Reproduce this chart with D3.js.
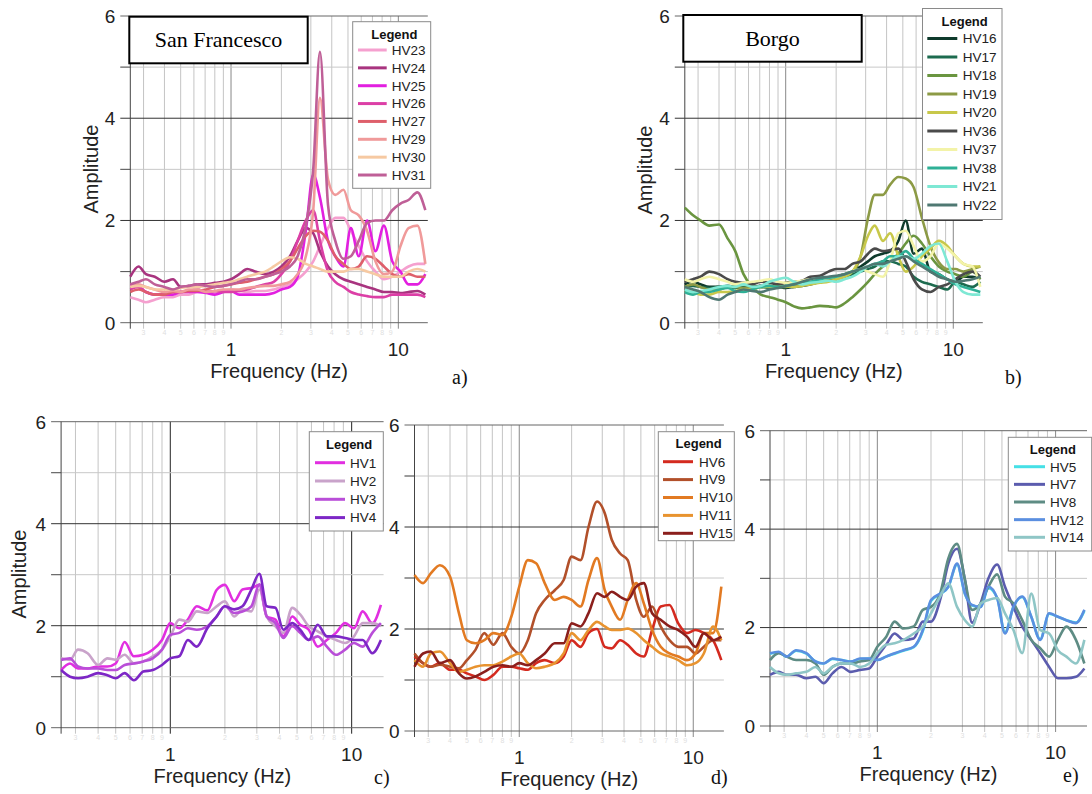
<!DOCTYPE html>
<html><head><meta charset="utf-8">
<script src="https://cdn.jsdelivr.net/npm/d3@7"></script>
<style>body{margin:0;background:#fff} svg{display:block}</style>
</head><body>
<svg id="chart" width="1092" height="794"></svg>
<script>
// ---------- DATA ----------
const freq = [0.25,0.28,0.31,0.35,0.4,0.45,0.5,0.56,0.63,0.71,0.8,0.9,1.0,1.12,1.25,1.4,1.6,1.8,2.0,2.25,2.5,2.8,3.1,3.4,3.8,4.2,4.7,5.2,5.8,6.5,7.3,8.2,9.2,10.3,11.5,13,14.5];
const yTicks = [0,2,4,6];
const xTickLabels = ["1","10"];
const xTickValues = [1,10];

// a) San Francesco
const sfNames = ["HV23","HV24","HV25","HV26","HV27","HV29","HV30","HV31"];
const hv23 = [0.5,0.45,0.4,0.45,0.5,0.5,0.55,0.55,0.6,0.6,0.6,0.62,0.65,0.62,0.6,0.62,0.62,0.65,0.7,0.75,0.85,1.0,1.2,1.5,1.85,2.05,2.05,1.8,1.5,1.2,1.0,0.85,0.9,1.0,1.1,1.15,1.15];
const hv24 = [0.9,1.1,0.95,0.9,0.8,0.85,0.7,0.72,0.75,0.75,0.78,0.8,0.85,0.95,1.05,1.0,0.95,1.0,1.1,1.3,1.6,1.85,1.75,1.4,1.1,0.95,0.85,0.8,0.75,0.7,0.65,0.6,0.6,0.58,0.6,0.62,0.55];
const hv25 = [0.75,0.7,0.6,0.55,0.55,0.55,0.6,0.6,0.6,0.58,0.55,0.6,0.62,0.55,0.55,0.55,0.55,0.58,0.65,0.7,0.9,1.8,2.9,2.45,1.6,1.3,1.1,1.85,1.3,2.0,1.4,1.9,1.2,1.0,0.75,0.75,0.95];
const hv26 = [0.65,0.7,0.6,0.55,0.55,0.6,0.6,0.62,0.65,0.6,0.62,0.6,0.6,0.62,0.65,0.7,0.75,0.8,0.95,1.2,1.6,2.0,2.2,1.6,1.0,0.8,0.7,0.6,0.55,0.52,0.5,0.5,0.55,0.55,0.55,0.55,0.5];
const hv27 = [0.6,0.65,0.6,0.55,0.55,0.6,0.6,0.62,0.62,0.65,0.7,0.72,0.75,0.78,0.8,0.85,0.9,0.95,1.05,1.2,1.45,1.7,1.8,1.78,1.6,1.3,1.15,1.05,1.1,1.3,1.25,1.1,0.95,0.9,0.95,0.9,0.9];
const hv29 = [0.7,0.75,0.7,0.65,0.6,0.62,0.6,0.65,0.65,0.6,0.62,0.65,0.65,0.65,0.68,0.7,0.72,0.72,0.75,0.8,0.95,1.3,2.2,4.4,2.8,2.5,2.6,2.2,2.1,1.8,1.2,0.95,1.0,1.5,1.85,1.9,1.15];
const hv30 = [0.7,0.72,0.7,0.65,0.65,0.65,0.68,0.7,0.7,0.72,0.75,0.78,0.8,0.85,0.9,0.95,1.0,1.1,1.2,1.28,1.25,1.15,1.1,1.05,1.0,1.0,1.0,1.05,1.05,1.0,0.95,0.9,0.9,0.9,1.0,1.05,1.0];
const hv31 = [0.75,0.8,0.85,0.75,0.7,0.65,0.7,0.72,0.75,0.72,0.7,0.72,0.75,0.8,0.85,0.85,0.9,0.95,1.0,1.1,1.3,1.9,3.0,5.3,2.3,1.6,1.25,1.3,1.6,1.95,2.0,2.0,2.2,2.33,2.4,2.55,2.2];

// b) Borgo
const bgNames = ["HV16","HV17","HV18","HV19","HV20","HV36","HV37","HV38","HV21","HV22"];
const hv16 = [0.75,0.8,0.75,0.7,0.7,0.72,0.7,0.68,0.7,0.72,0.7,0.7,0.68,0.7,0.72,0.75,0.8,0.85,0.9,0.95,1.0,1.1,1.2,1.3,1.35,1.4,1.6,2.0,1.35,1.45,1.0,0.95,0.85,0.8,0.9,0.9,0.85];
const hv17 = [0.7,0.72,0.7,0.68,0.7,0.7,0.68,0.7,0.72,0.7,0.68,0.7,0.7,0.72,0.75,0.78,0.8,0.82,0.85,0.9,0.95,1.0,1.05,1.1,1.2,1.2,1.15,1.1,0.9,0.8,0.75,0.7,0.65,0.8,0.75,0.7,0.8];
const hv18 = [2.25,2.1,2.0,1.9,1.92,1.65,1.4,0.95,0.7,0.55,0.5,0.45,0.4,0.32,0.28,0.3,0.33,0.32,0.3,0.38,0.5,0.65,0.8,0.95,1.1,1.2,1.35,1.55,1.7,1.55,1.3,1.1,1.0,0.95,0.9,1.0,0.85];
const hv19 = [0.7,0.75,0.7,0.65,0.65,0.7,0.7,0.68,0.7,0.7,0.72,0.7,0.7,0.72,0.75,0.78,0.8,0.85,0.9,0.95,1.0,1.3,2.05,2.5,2.5,2.7,2.85,2.82,2.65,2.05,1.5,1.18,1.05,1.05,1.0,1.05,1.1];
const hv20 = [0.6,0.6,0.55,0.55,0.6,0.6,0.62,0.65,0.65,0.7,0.7,0.72,0.72,0.7,0.72,0.75,0.78,0.8,0.85,0.9,1.0,1.3,1.7,1.9,1.6,1.75,1.3,1.0,1.1,1.3,1.45,1.6,1.5,1.3,1.15,1.1,1.1];
const hv36 = [0.8,0.85,0.9,1.0,0.95,0.85,0.8,0.78,0.75,0.8,0.78,0.75,0.78,0.8,0.82,0.9,0.92,1.0,1.05,1.05,1.15,1.2,1.35,1.45,1.4,1.42,1.45,1.2,0.85,0.65,0.6,0.7,0.75,0.85,0.95,1.0,0.9];
const hv37 = [0.85,0.8,0.85,0.9,0.85,0.8,0.75,0.78,0.8,0.82,0.85,0.8,0.78,0.8,0.82,0.85,0.85,0.88,0.9,0.95,1.0,1.05,1.0,0.95,0.9,1.2,1.75,1.8,1.5,1.2,1.3,1.55,1.45,1.3,1.15,1.1,0.7];
const hv38 = [0.6,0.55,0.6,0.6,0.65,0.68,0.62,0.6,0.65,0.7,0.72,0.7,0.72,0.75,0.78,0.8,0.85,0.88,0.9,0.95,1.0,1.05,1.1,1.15,1.2,1.3,1.3,1.4,1.25,1.15,1.05,0.95,0.85,0.75,0.7,0.65,0.6];
const hv21 = [0.65,0.6,0.62,0.65,0.7,0.72,0.7,0.75,0.7,0.72,0.8,0.85,0.88,0.8,0.75,0.78,0.8,0.82,0.8,0.85,0.9,1.0,1.1,1.15,1.1,1.2,1.3,1.3,1.25,1.35,1.5,1.55,1.2,0.8,0.6,0.55,0.55];
const hv22 = [0.7,0.65,0.6,0.5,0.45,0.55,0.6,0.65,0.62,0.6,0.65,0.68,0.72,0.75,0.8,0.85,0.88,0.9,0.92,0.95,1.0,1.05,1.1,1.15,1.15,1.2,1.25,1.3,1.2,1.1,1.0,0.9,0.85,0.8,0.82,0.85,0.9];

// c)
const cNames = ["HV1","HV2","HV3","HV4"];
const hv1 = [1.13,1.26,1.16,1.16,1.2,1.2,1.26,1.68,1.4,1.43,1.53,1.72,2.05,1.95,2.12,2.38,2.3,2.7,2.8,2.48,2.71,2.74,2.8,2.18,2.12,1.79,2.18,2.02,1.92,1.59,1.72,1.86,2.05,1.95,2.28,2.05,2.41];
const hv2 = [1.36,1.33,1.53,1.46,1.23,1.36,1.33,1.43,1.26,1.3,1.4,1.53,1.79,2.12,2.08,2.28,2.25,2.38,2.48,2.18,2.32,2.28,2.71,2.18,1.99,1.86,2.35,2.22,1.99,1.89,1.79,1.72,1.66,1.79,2.05,2.05,1.99];
const hv3 = [1.33,1.36,1.2,1.16,1.16,1.13,1.13,1.23,1.26,1.3,1.36,1.53,1.82,1.86,1.95,1.92,1.99,2.18,2.38,2.25,2.28,2.38,2.81,2.18,2.05,1.76,1.99,1.86,1.72,1.79,1.59,1.43,1.53,1.66,1.59,1.86,2.05];
const hv4 = [1.13,1.0,0.97,1.0,1.07,1.03,0.97,1.07,0.93,1.1,1.13,1.23,1.36,1.4,1.72,1.59,1.95,2.18,2.38,2.32,2.38,2.71,3.02,2.38,2.35,1.92,2.05,1.92,1.72,2.02,1.79,1.79,1.76,1.72,1.72,1.46,1.72];

// d)
const dNames = ["HV6","HV9","HV10","HV11","HV15"];
const hv6 = [1.46,1.33,1.26,1.33,1.2,1.2,1.13,1.07,1.0,1.1,1.26,1.26,1.23,1.2,1.33,1.39,1.33,1.46,1.78,1.65,1.92,2.0,1.65,1.62,1.78,1.69,1.52,1.46,1.98,2.44,2.47,2.11,1.92,1.98,1.92,1.78,1.39];
const hv9 = [1.52,1.33,1.26,1.3,1.26,1.23,1.39,1.59,1.92,1.69,1.92,1.65,1.52,1.78,2.31,2.57,2.76,2.96,3.42,3.35,4.0,4.5,4.27,3.75,3.48,3.35,2.57,2.24,2.44,2.05,1.78,1.65,1.65,1.52,1.65,1.78,1.78];
const hv10 = [3.06,2.9,3.09,3.25,3.03,2.31,1.78,1.72,1.78,1.92,1.88,2.24,2.83,3.35,3.29,2.9,2.57,2.63,2.57,2.44,2.96,3.39,2.76,2.44,2.18,2.57,2.9,2.5,1.98,1.65,1.52,1.46,1.39,1.52,1.92,1.92,2.83];
const hv11 = [1.39,1.26,1.52,1.56,1.33,1.16,1.2,1.26,1.29,1.29,1.36,1.46,1.52,1.33,1.23,1.26,1.33,1.52,1.92,1.78,1.98,2.14,2.05,1.98,1.98,2.01,1.92,1.78,1.65,1.52,1.46,1.39,1.29,1.33,1.52,2.05,1.78];
const hv15 = [1.26,1.52,1.56,1.33,1.39,1.13,1.03,1.07,1.16,1.26,1.29,1.26,1.33,1.29,1.39,1.52,1.72,1.72,2.11,2.05,2.31,2.7,2.63,2.73,2.63,2.57,2.83,2.9,2.31,2.18,2.05,1.98,1.85,1.65,1.92,1.78,1.85];

// e)
const eNames = ["HV5","HV7","HV8","HV12","HV14"];
const hv5 = [1.47,1.5,1.41,1.53,1.47,1.31,1.27,1.36,1.34,1.31,1.36,1.37,1.34,1.41,1.47,1.53,1.6,1.93,2.54,2.68,2.82,3.28,2.68,2.45,2.42,2.8,2.6,1.9,2.42,2.62,2.22,1.76,2.28,2.22,2.15,2.1,2.34];
const hv7 = [1.04,1.1,1.04,1.04,0.97,1.0,0.87,1.07,1.2,1.1,1.14,1.17,1.41,1.65,1.88,1.75,1.78,2.12,2.12,2.56,3.3,3.6,2.97,2.1,2.5,3.0,3.28,2.83,2.42,2.02,1.75,1.48,1.2,0.97,0.97,1.0,1.17];
const hv8 = [1.34,1.48,1.41,1.34,1.34,1.27,1.04,1.2,1.27,1.27,1.31,1.34,1.61,1.81,2.12,1.98,2.02,2.36,2.42,2.69,3.4,3.7,2.97,2.36,2.49,2.83,3.08,2.63,2.49,2.15,1.75,1.58,1.41,1.75,2.02,1.75,1.27];
const hv12 = [1.48,1.51,1.41,1.54,1.48,1.31,1.27,1.37,1.34,1.31,1.37,1.37,1.34,1.41,1.48,1.54,1.61,1.95,2.56,2.69,2.83,3.3,2.69,2.46,2.42,2.83,2.6,1.88,2.42,2.63,2.22,1.75,2.29,2.22,2.15,2.09,2.36];
const hv14 = [1.2,1.07,1.04,1.07,1.1,1.2,1.07,1.2,1.27,1.27,1.2,1.27,1.48,1.65,1.68,1.75,1.88,2.02,2.29,2.63,2.9,2.42,2.15,2.02,2.49,2.56,2.6,2.29,1.95,1.48,2.69,1.95,1.88,1.54,1.41,1.27,1.75];

// ---------- STYLES / LAYOUT ----------
const palette = {
  a: ["#f5a0cf","#a8347f","#e21fe0","#dc3fa6","#de5f6b","#f09a9a","#f6c9a2","#bf5f97"],
  b: ["#0f3a2c","#1d6b4f","#6a9540","#8c9a45","#c8c84a","#4a4a4a","#f3f3a8","#2fb096","#7ee8d4","#4f7872"],
  c: ["#e12fe0","#c9a3ca","#b94ed8","#7d27c6"],
  d: ["#d42a1f","#b2502a","#e27a22","#e8932f","#8b1f1c"],
  e: ["#46e0e6","#5b5cae","#5e8c84","#5b8fe0","#8fc6c6"]
};

const panels = [
  {key:"a", names:sfNames, series:[hv23,hv24,hv25,hv26,hv27,hv29,hv30,hv31],
   x0:130.3, x1:427.8, top:16, bot:322.7, amp:{x:91,y:169}, letter:{t:"a)",x:452,y:384},
   title:{t:"San Francesco", x:129.3, y:16.7, w:178.4, h:46.6},
   leg:{x:352.7, y:21.7, w:78, h:166.6, head:34.2, y0:50, step:17.86, l0:358, l1:386.7, tx:391.7}},
  {key:"b", names:bgNames, series:[hv16,hv17,hv18,hv19,hv20,hv36,hv37,hv38,hv21,hv22],
   x0:684.8, x1:982.8, top:16, bot:322.7, amp:{x:645,y:170}, letter:{t:"b)",x:1005,y:384},
   title:{t:"Borgo", x:683.3, y:15, w:178.4, h:46.7},
   leg:{x:922.5, y:8.5, w:79.5, h:211, head:21, y0:38.5, step:18.5, l0:927.3, l1:957.3, tx:962.7}},
  {key:"c", names:cNames, series:[hv1,hv2,hv3,hv4],
   x0:61.1, x1:383.6, top:421.7, bot:727.7, amp:{x:18.5,y:574}, letter:{t:"c)",x:374,y:784},
   leg:{x:309.3, y:431.7, w:74, h:99.3, head:444.3, y0:462.7, step:18.3, l0:315, l1:345, tx:350}},
  {key:"d", names:dNames, series:[hv6,hv9,hv10,hv11,hv15],
   x0:414.5, x1:723.9, top:425, bot:731, amp:null, letter:{t:"d)",x:711,y:784},
   leg:{x:658.3, y:431.7, w:76, h:109, head:443.3, y0:461.7, step:17.9, l0:663, l1:693, tx:699}},
  {key:"e", names:eNames, series:[hv5,hv7,hv8,hv12,hv14],
   x0:770, x1:1087, top:430.7, bot:726, amp:null, letter:{t:"e)",x:1063,y:782},
   leg:{x:1008.3, y:437.3, w:83.4, h:113.7, head:449.3, y0:466.7, step:17.65, l0:1014, l1:1045, tx:1050}}
];

const SANS = "'Liberation Sans', Arial, Helvetica, sans-serif";
const SERIF = "'Liberation Serif', 'Times New Roman', serif";
const svg = d3.select("#chart");
svg.append("rect").attr("width",1092).attr("height",794).attr("fill","#fff");

const minorVals = [0.3,0.4,0.5,0.6,0.7,0.8,0.9,2,3,4,5,6,7,8,9];
const minorLab = ["3","4","5","6","7","8","9","2","3","4","5","6","7","8","9"];

panels.forEach(p => {
  const x = d3.scaleLog().domain([0.25, 15]).range([p.x0, p.x1]);
  const y = d3.scaleLinear().domain([0, 6]).range([p.bot, p.top]);
  const g = svg.append("g");

  // vertical grid
  g.selectAll(".vmin").data(minorVals).join("line")
    .attr("x1", d=>x(d)).attr("x2", d=>x(d))
    .attr("y1", y(6)).attr("y2", y(0)+6)
    .attr("stroke", "#c4c4c4").attr("stroke-width", 1);
  g.selectAll(".vmaj").data(xTickValues).join("line")
    .attr("x1", d=>x(d)).attr("x2", d=>x(d))
    .attr("y1", y(6)).attr("y2", y(0)+6)
    .attr("stroke", p.key==="c" ? "#222" : "#888").attr("stroke-width", 1);
  // faint minor labels
  g.selectAll(".mlab").data(minorVals).join("text")
    .attr("x", d=>x(d)).attr("y", y(0)+12)
    .attr("text-anchor","middle").attr("font-family",SANS).attr("font-size",7)
    .attr("fill","#e0e0e0").text((d,i)=>minorLab[i]);

  // horizontal grid
  g.selectAll(".hmin").data([1,3,5]).join("line")
    .attr("x1", p.x0-10).attr("x2", p.x1)
    .attr("y1", d=>y(d)).attr("y2", d=>y(d))
    .attr("stroke", "#c8c8c8").attr("stroke-width", 1);
  g.selectAll(".hminTick").data([1,3,5]).join("line")
    .attr("x1", p.x0-10).attr("x2", p.x0)
    .attr("y1", d=>y(d)).attr("y2", d=>y(d))
    .attr("stroke", "#555").attr("stroke-width", 1);
  g.selectAll(".hmaj").data(yTicks).join("line")
    .attr("x1", p.x0-10).attr("x2", p.x1)
    .attr("y1", d=>y(d)).attr("y2", d=>y(d))
    .attr("stroke", d => (d===0||d===6) ? "#666" : "#333").attr("stroke-width", 1);
  // left axis line
  g.append("line").attr("x1",p.x0).attr("x2",p.x0).attr("y1",y(6)).attr("y2",y(0)+6)
    .attr("stroke","#444").attr("stroke-width",1);

  // y tick labels
  g.selectAll(".ylab").data(yTicks).join("text")
    .attr("x", p.x0-15).attr("y", d=>y(d)).attr("dy","0.36em")
    .attr("text-anchor","end").attr("font-family",SANS).attr("font-size",19)
    .attr("fill","#222").text(d=>d);
  // x tick labels
  g.selectAll(".xlab").data(xTickValues).join("text")
    .attr("x", d=>x(d)).attr("y", y(0)+33)
    .attr("text-anchor","middle").attr("font-family",SANS).attr("font-size",19)
    .attr("fill","#222").text((d,i)=>xTickLabels[i]);
  // axis titles
  g.append("text").attr("x",(p.x0+p.x1)/2).attr("y",y(0)+55)
    .attr("text-anchor","middle").attr("font-family",SANS).attr("font-size",20)
    .attr("fill","#222").text("Frequency (Hz)");
  if (p.amp) {
    g.append("text").attr("transform",`translate(${p.amp.x},${p.amp.y}) rotate(-90)`)
      .attr("text-anchor","middle").attr("dy","0.35em").attr("font-family",SANS).attr("font-size",20)
      .attr("fill","#222").text("Amplitude");
  }
  g.append("text").attr("x",p.letter.x).attr("y",p.letter.y)
    .attr("font-family",SERIF).attr("font-size",20).attr("fill","#111").text(p.letter.t);

  // curves
  const line = d3.line().x((d,i)=>x(freq[i])).y(d=>y(d)).curve(d3.curveMonotoneX);
  p.series.forEach((s,k) => {
    g.append("path").datum(s).attr("d", line)
      .attr("fill","none").attr("stroke", palette[p.key][k])
      .attr("stroke-width", 2.6).attr("stroke-linejoin","round");
  });

  // title box
  if (p.title) {
    g.append("rect").attr("x",p.title.x).attr("y",p.title.y).attr("width",p.title.w).attr("height",p.title.h)
      .attr("fill","#fff").attr("stroke","#000").attr("stroke-width",2);
    g.append("text").attr("x",p.title.x+p.title.w/2).attr("y",p.title.y+p.title.h/2).attr("dy","0.33em")
      .attr("text-anchor","middle").attr("font-family",SERIF).attr("font-size",22).attr("fill","#000")
      .text(p.title.t);
  }

  // legend
  const L = p.leg;
  g.append("rect").attr("x",L.x).attr("y",L.y).attr("width",L.w).attr("height",L.h)
    .attr("fill","#fff").attr("stroke","#8a8a8a").attr("stroke-width",1);
  g.append("text").attr("x",(L.l0+L.x+L.w)/2).attr("y",L.head).attr("dy","0.35em")
    .attr("text-anchor","middle").attr("font-family",SANS).attr("font-weight","bold")
    .attr("font-size",13).attr("fill","#111").text("Legend");
  p.names.forEach((n,k) => {
    const yy = L.y0 + k*L.step;
    g.append("line").attr("x1",L.l0).attr("x2",L.l1).attr("y1",yy).attr("y2",yy)
      .attr("stroke",palette[p.key][k]).attr("stroke-width",3);
    g.append("text").attr("x",L.tx).attr("y",yy).attr("dy","0.36em")
      .attr("font-family",SANS).attr("font-size",13.5).attr("fill","#222").text(n);
  });
});
</script>
</body></html>
